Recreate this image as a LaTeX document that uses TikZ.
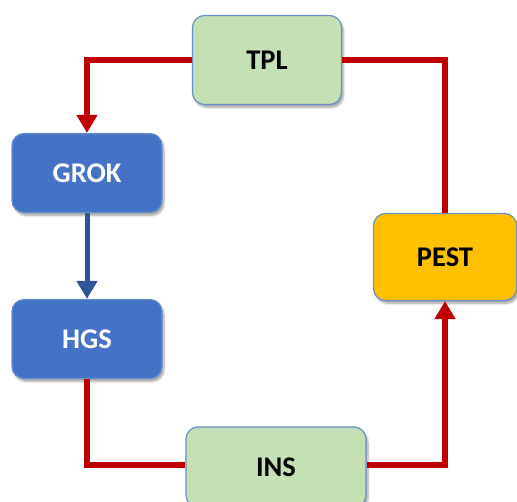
\documentclass[tikz,border=0pt]{standalone}
\usepackage{fontspec}
\setmainfont{Carlito}
\usetikzlibrary{arrows.meta,shadows.blur}
\definecolor{flowred}{HTML}{C00000}
\definecolor{flowblue}{HTML}{2F5597}
\definecolor{boxgreen}{HTML}{C5E0B4}
\definecolor{boxblue}{HTML}{4472C4}
\definecolor{boxgold}{HTML}{FFC000}
\definecolor{boxedge}{HTML}{6A8FCB}
\tikzset{
  stage/.style={draw=boxedge, line width=1.2pt, rounded corners=12pt,
    minimum width=#1, font=\fontsize{28.5}{33}\selectfont\bfseries,
    blur shadow={shadow xshift=2pt, shadow yshift=-3pt, shadow blur steps=6, shadow opacity=35}},
  greenstage/.style={stage=#1, fill=boxgreen, text=black, minimum height=89pt},
  bluestage/.style={stage=#1, fill=boxblue, text=white, minimum height=79pt},
  goldstage/.style={stage=#1, fill=boxgold, text=black, minimum height=87pt},
  redflow/.style={draw=flowred, line width=5.5pt},
  blueflow/.style={draw=flowblue, line width=5pt},
  tip/.style={-{Triangle[width=20pt,length=18pt]}},
}
\begin{document}
\begin{tikzpicture}[x=1pt,y=-1pt]
  \useasboundingbox (0,0) rectangle (517,502);
  \clip (0,0) rectangle (517,502);
  % corner points of the loop
  \coordinate (c1) at (87,60);
  \coordinate (c2) at (445,60);
  \coordinate (c3) at (87,465);
  \coordinate (c4) at (445,465);
  % stages
  \node[greenstage=149pt] (tpl) at (267,60) {TPL};
  \node[bluestage=150pt] (grok) at (87,173) {GROK};
  \node[bluestage=150pt] (hgs) at (87,339) {HGS};
  \node[goldstage=143pt] (pest) at (445,257) {PEST};
  \node[greenstage=180pt, minimum height=80pt] (ins) at (276,467) {INS};
  % connectors
  \draw[redflow, tip] (tpl.west) -- (c1) -- (grok.north);
  \draw[redflow] (tpl.east) -- (c2) -- (pest.north);
  \draw[blueflow, tip] (grok.south) -- (hgs.north);
  \draw[redflow] (hgs.south) -- (c3) -- (ins.west |- c3);
  \draw[redflow, tip] (ins.east |- c4) -- (c4) -- (pest.south);
\end{tikzpicture}
\end{document}
